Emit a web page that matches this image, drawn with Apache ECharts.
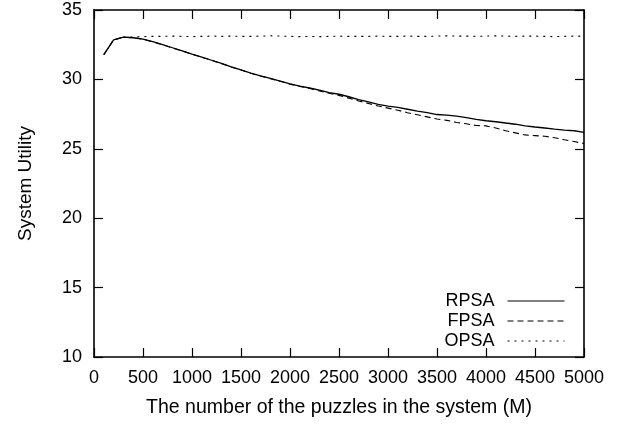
<!DOCTYPE html>
<html>
<head>
<meta charset="utf-8">
<script src="https://cdn.jsdelivr.net/npm/echarts@6/dist/echarts.min.js"></script>
<style>html,body{margin:0;padding:0;background:#fff}#c{width:635px;height:424px}</style>
</head>
<body>
<div id="c"></div>
<script>
const puzzles = [100,200,300,400,500,600,700,800,900,1000,1100,1200,1300,1400,1500,1600,1700,1800,1900,2000,2100,2200,2300,2400,2500,2600,2700,2800,2900,3000,3100,3200,3300,3400,3500,3600,3700,3800,3900,4000,4100,4200,4300,4400,4500,4600,4700,4800,4900,5000];
const rpsa = [31.78,32.85,33.05,33.0,32.9,32.72,32.5,32.28,32.05,31.82,31.6,31.38,31.15,30.9,30.68,30.45,30.25,30.07,29.88,29.68,29.52,29.38,29.22,29.05,28.93,28.75,28.55,28.38,28.2,28.08,27.98,27.85,27.72,27.6,27.47,27.42,27.36,27.25,27.12,27.02,26.95,26.86,26.77,26.65,26.57,26.5,26.42,26.35,26.3,26.18];
const fpsa = [31.78,32.85,33.05,33.0,32.9,32.7,32.5,32.27,32.05,31.82,31.6,31.37,31.14,30.9,30.67,30.44,30.24,30.05,29.87,29.66,29.5,29.35,29.17,29.0,28.85,28.65,28.45,28.27,28.08,27.93,27.78,27.6,27.45,27.3,27.15,27.05,26.9,26.8,26.68,26.65,26.5,26.3,26.15,26.0,25.95,25.9,25.8,25.65,25.52,25.38];
const opsa = [31.78,32.85,33.05,33.05,33.08,33.1,33.1,33.12,33.1,33.08,33.1,33.12,33.1,33.12,33.1,33.1,33.12,33.14,33.12,33.1,33.08,33.1,33.08,33.1,33.12,33.1,33.1,33.1,33.12,33.1,33.1,33.12,33.1,33.1,33.12,33.14,33.12,33.12,33.1,33.12,33.14,33.12,33.1,33.12,33.12,33.1,33.08,33.1,33.12,33.12];
const xTicks = [0,500,1000,1500,2000,2500,3000,3500,4000,4500,5000];
const yTicks = [10,15,20,25,30,35];
const names = ['RPSA','FPSA','OPSA'];

const font = 'Liberation Sans, Arial, sans-serif';
const FS = 18;
const NFS = 19.5;
const chart = echarts.init(document.getElementById('c'), null, {renderer:'canvas'});
const pair = a => puzzles.map((x,i)=>[x,a[i]]);
function axLine(){ return {show:true,onZero:false,lineStyle:{color:'#000',width:1.6}}; }
function axTick(){ return {show:true,inside:true,length:9,lineStyle:{color:'#000',width:1.2}}; }
function legendItem(n, top){
  return {
    data:[n], top:top, right:65, orient:'vertical', align:'right',
    itemWidth:57, itemHeight:12, itemGap:0,
    itemStyle:{opacity:0},
    lineStyle:{width:1},
    textStyle:{fontFamily:font,fontSize:FS,color:'#000',padding:[0,8,0,0]}
  };
}
chart.setOption({
  animation:false,
  grid:{left:94,top:10,right:51,bottom:67,containLabel:false},
  xAxis:[
    {type:'value',min:0,max:5000,interval:500,position:'bottom',
      name:'The number of the puzzles in the system (M)',nameLocation:'middle',nameGap:41,
      nameTextStyle:{fontFamily:font,fontSize:NFS,color:'#000'},
      axisLine:axLine(),axisTick:axTick(),splitLine:{show:false},
      axisLabel:{fontFamily:font,fontSize:FS,color:'#000',margin:12,
        formatter:v=>xTicks.includes(v)?String(v):''}},
    {type:'value',min:0,max:5000,interval:500,position:'top',
      axisLine:axLine(),axisTick:axTick(),splitLine:{show:false},axisLabel:{show:false}}
  ],
  yAxis:[
    {type:'value',min:10,max:35,interval:5,position:'left',
      name:'System Utility',nameLocation:'middle',nameGap:59,
      nameTextStyle:{fontFamily:font,fontSize:19,color:'#000'},
      axisLine:axLine(),axisTick:axTick(),splitLine:{show:false},
      axisLabel:{fontFamily:font,fontSize:FS,color:'#000',margin:12,
        formatter:v=>yTicks.includes(v)?String(v):''}},
    {type:'value',min:10,max:35,interval:5,position:'right',
      axisLine:axLine(),axisTick:axTick(),splitLine:{show:false},axisLabel:{show:false}}
  ],
  legend:[ legendItem(names[0],287), legendItem(names[1],307), legendItem(names[2],327) ],
  series:[
    {name:names[0],type:'line',symbol:'none',data:pair(rpsa),lineStyle:{color:'#000',width:1.3,type:'solid'},itemStyle:{color:'#000'},z:3},
    {name:names[1],type:'line',symbol:'none',data:pair(fpsa),lineStyle:{color:'#000',width:1.1,type:[6,4]},itemStyle:{color:'#000'},z:2},
    {name:names[2],type:'line',symbol:'none',data:pair(opsa),lineStyle:{color:'#000',width:1.1,type:[2,5]},itemStyle:{color:'#000'},z:1}
  ]
});
</script>
</body>
</html>
